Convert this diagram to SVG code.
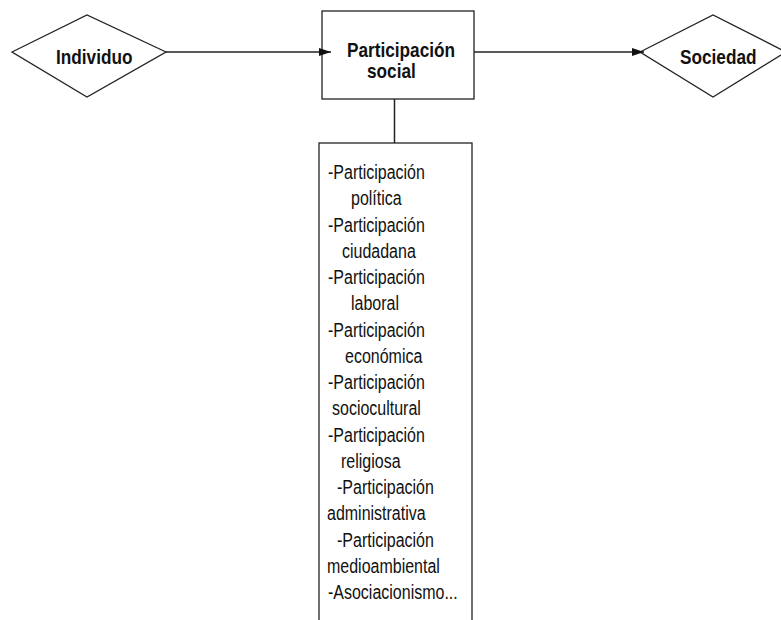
<svg xmlns="http://www.w3.org/2000/svg" width="781" height="620" viewBox="0 0 781 620">
<style>
.shape{fill:#fff;stroke:#222;stroke-width:1.3}
.edge{fill:none;stroke:#222;stroke-width:1.5}
.hd{font-family:"Liberation Sans",Arial,sans-serif;font-weight:bold;font-size:21px;fill:#111}
.li{font-family:"Liberation Sans",Arial,sans-serif;font-size:19.5px;fill:#111}
</style>
<defs>
<marker id="ah" markerWidth="12" markerHeight="8" refX="12" refY="4" orient="auto" markerUnits="userSpaceOnUse">
<path d="M0,0 L12,4 L0,8 Z" fill="#111"/>
</marker>
</defs>
<rect width="781" height="620" fill="#fff"/>
<g id="individuo">
<polygon class="shape" points="12,52 87,15 166,52 87,97"/>
<text class="hd" transform="matrix(0.82 0 0 1 56 64)">Individuo</text>
</g>
<g id="sociedad">
<polygon class="shape" points="640,52 713,15 786,52 713,97"/>
<text class="hd" transform="matrix(0.82 0 0 1 680 64)">Sociedad</text>
</g>
<g id="participacion">
<rect class="shape" x="322" y="11" width="152" height="88"/>
<text class="hd" transform="matrix(0.82 0 0 1 347 57)">Participación</text>
<text class="hd" transform="matrix(0.82 0 0 1 367 78)">social</text>
</g>
<g id="lista">
<rect class="shape" x="319" y="143" width="153" height="500"/>
<text class="li" transform="matrix(0.82 0 0 1 328 179)">-Participación</text>
<text class="li" transform="matrix(0.82 0 0 1 351 205.25)">política</text>
<text class="li" transform="matrix(0.82 0 0 1 328 231.5)">-Participación</text>
<text class="li" transform="matrix(0.82 0 0 1 342 257.75)">ciudadana</text>
<text class="li" transform="matrix(0.82 0 0 1 328 284)">-Participación</text>
<text class="li" transform="matrix(0.82 0 0 1 351 310.25)">laboral</text>
<text class="li" transform="matrix(0.82 0 0 1 328 336.5)">-Participación</text>
<text class="li" transform="matrix(0.82 0 0 1 345 362.75)">económica</text>
<text class="li" transform="matrix(0.82 0 0 1 328 389)">-Participación</text>
<text class="li" transform="matrix(0.82 0 0 1 332 415.25)">sociocultural</text>
<text class="li" transform="matrix(0.82 0 0 1 328 441.5)">-Participación</text>
<text class="li" transform="matrix(0.82 0 0 1 341 467.75)">religiosa</text>
<text class="li" transform="matrix(0.82 0 0 1 337 494)">-Participación</text>
<text class="li" transform="matrix(0.82 0 0 1 327 520.25)">administrativa</text>
<text class="li" transform="matrix(0.82 0 0 1 337 546.5)">-Participación</text>
<text class="li" transform="matrix(0.82 0 0 1 327 572.75)">medioambiental</text>
<text class="li" transform="matrix(0.82 0 0 1 328 599)">-Asociacionismo...</text>
</g>
<g id="connectors">
<line class="edge" x1="166" y1="52" x2="331" y2="52" marker-end="url(#ah)"/>
<line class="edge" x1="474" y1="52" x2="644" y2="52" marker-end="url(#ah)"/>
<line class="edge" x1="394.5" y1="99" x2="394.5" y2="143"/>
</g>
</svg>
